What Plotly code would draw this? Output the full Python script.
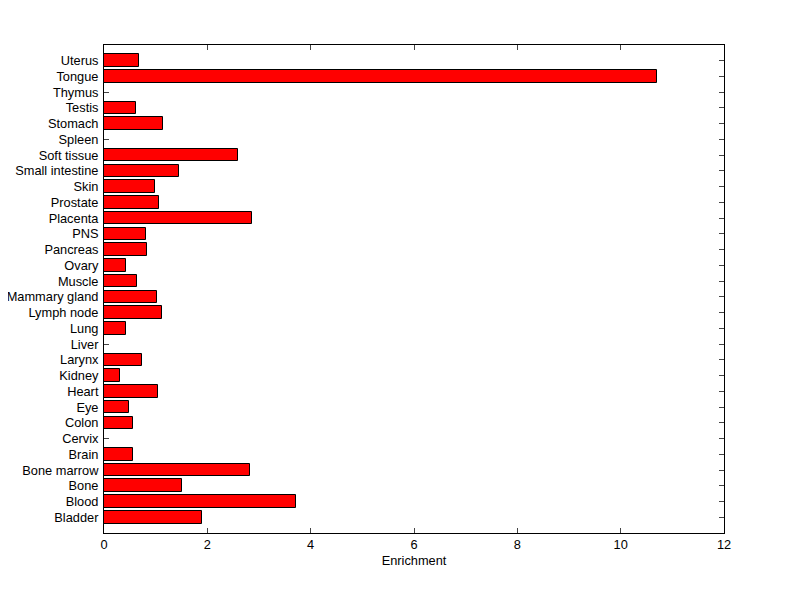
import plotly.graph_objects as go

tissues = ["Bladder", "Blood", "Bone", "Bone marrow", "Brain", "Cervix", "Colon", "Eye",
           "Heart", "Kidney", "Larynx", "Liver", "Lung", "Lymph node", "Mammary gland",
           "Muscle", "Ovary", "Pancreas", "PNS", "Placenta", "Prostate", "Skin",
           "Small intestine", "Soft tissue", "Spleen", "Stomach", "Testis", "Thymus",
           "Tongue", "Uterus"]
enrichment = [1.90, 3.72, 1.50, 2.83, 0.57, 0.0, 0.57, 0.49,
              1.05, 0.30, 0.74, 0.0, 0.43, 1.13, 1.03,
              0.63, 0.43, 0.84, 0.82, 2.87, 1.07, 0.99,
              1.46, 2.59, 0.0, 1.14, 0.61, 0.0,
              10.71, 0.68]
x_ticks = [0, 2, 4, 6, 8, 10, 12]

positions = list(range(len(tissues)))

fig = go.Figure()
fig.add_trace(go.Bar(
    x=enrichment, y=positions, orientation="h", width=0.8,
    marker=dict(color="#ff0000", line=dict(color="black", width=1)),
))

font = dict(family="Liberation Sans, Arial, sans-serif", size=12.8, color="black")
fig.update_layout(
    width=792, height=591,
    margin=dict(l=96, r=76, t=37, b=66),
    paper_bgcolor="white", plot_bgcolor="white",
    showlegend=False, font=font, bargap=0,
    xaxis=dict(range=[0, 12], tickvals=x_ticks, ticks="inside", ticklen=5,
               showline=True, linecolor="black", linewidth=1, mirror="ticks",
               showgrid=False, zeroline=False, automargin=False,
               title=dict(text="Enrichment", font=font, standoff=4),
               tickfont=font),
    yaxis=dict(range=[-1, 30], tickvals=positions, ticktext=tissues, ticks="inside", ticklen=5,
               showline=True, linecolor="black", linewidth=1, mirror="ticks",
               showgrid=False, zeroline=False, automargin=False, ticklabelstandoff=2,
               layer="below traces", tickfont=font),
)

fig.write_html("out.html")
